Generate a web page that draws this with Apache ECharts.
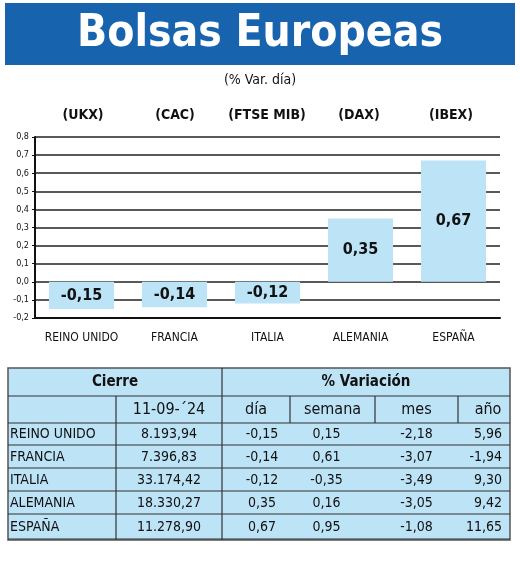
<!DOCTYPE html>
<html><head><meta charset="utf-8">
<script src="https://cdn.jsdelivr.net/npm/echarts@6/dist/echarts.min.js"></script>
<style>html,body{margin:0;padding:0;background:#fff}#c{width:520px;height:581px}</style>
</head><body><div id="c"></div>
<script>
var categories = ['REINO UNIDO','FRANCIA','ITALIA','ALEMANIA','ESPAÑA'];
var indices = ['(UKX)','(CAC)','(FTSE MIB)','(DAX)','(IBEX)'];
var dayChange = [-0.15,-0.14,-0.12,0.35,0.67];
var cierre = ['8.193,94','7.396,83','33.174,42','18.330,27','11.278,90'];
var dia = ['-0,15','-0,14','-0,12','0,35','0,67'];
var semana = ['0,15','0,61','-0,35','0,16','0,95'];
var mes = ['-2,18','-3,07','-3,49','-3,05','-1,08'];
var anio = ['5,96','-1,94','9,30','9,42','11,65'];
var headers = ['día','semana','mes','año'];

var F = "'Liberation Sans Narrow','DejaVu Sans Condensed','Roboto',sans-serif";
var BLUE = '#bde3f7';
var g = [];
g.push({type:'rect',shape:{x:5,y:3,width:510,height:62},style:{fill:'#1763ae'}});
g.push({type:'text',style:{text:'Bolsas Europeas',x:260,y:35,textAlign:'center',textVerticalAlign:'middle',font:'bold 44px '+F,fill:'#fff'}});
g.push({type:'text',style:{text:'(% Var. día)',x:260,y:80,textAlign:'center',textVerticalAlign:'middle',font:'14px '+F,fill:'#111'}});
indices.forEach(function(t,i){
  g.push({type:'text',style:{text:t,x:35+460/5*(i+0.5)+2,y:115,textAlign:'center',textVerticalAlign:'middle',font:'bold 14px '+F,fill:'#111'}});
});
var cols=[8,116,222,290,375,458,510];
var rows=[368,396,423,446,469,492,515,540];
g.push({type:'rect',shape:{x:8,y:368,width:502,height:172},style:{fill:BLUE,stroke:'#555',lineWidth:1.5}});
function line(x1,y1,x2,y2,w){g.push({type:'line',shape:{x1:x1,y1:y1,x2:x2,y2:y2},style:{stroke:'#333',lineWidth:w||1}});}
line(8,396,510,396,1.2);
line(8,423,510,423,1.2);
line(222,368,222,540,1.2);
line(116,396,116,540,1.2);
[290,375,458].forEach(function(x){line(x,396,x,423,1.2);});
for(var r=0;r<5;r++){line(8,rows[r+3]-1,510,rows[r+3]-1,1.2);}
function txt(s,x,y,al,font){g.push({type:'text',style:{text:s,x:x,y:y,textAlign:al,textVerticalAlign:'middle',font:font,fill:'#111'}});}
txt('Cierre',(cols[0]+cols[2])/2,382,'center','bold 15px '+F);
txt('% Variación',(cols[2]+cols[6])/2,382,'center','bold 15px '+F);
txt('11-09-´24',(cols[1]+cols[2])/2,410,'center','16px '+F);
headers.forEach(function(h,i){txt(h,(cols[i+2]+cols[i+3])/2+(i==3?4:0),410,'center','16px '+F);});
for(var r=0;r<5;r++){
  var y=(rows[r+2]+rows[r+3])/2;
  txt(categories[r],10,y,'left','14px '+F);
  txt(cierre[r],(cols[1]+cols[2])/2,y,'center','14px '+F);
  txt(dia[r],(cols[2]+cols[3])/2+6,y,'center','14px '+F);
  txt(semana[r],(cols[3]+cols[4])/2-6,y,'center','14px '+F);
  txt(mes[r],(cols[4]+cols[5])/2,y,'center','14px '+F);
  txt(anio[r],cols[6]-8,y,'right','14px '+F);
}

var chart = echarts.init(document.getElementById('c'));
chart.setOption({
  animation:false,
  grid:{left:35,right:20,top:137,height:181},
  xAxis:{type:'category',data:categories,
    axisLine:{onZero:false,lineStyle:{color:'#111',width:2}},axisTick:{show:false},
    axisLabel:{interval:0,color:'#111',fontFamily:F,fontSize:12,margin:14}},
  yAxis:{type:'value',min:-0.2,max:0.8,interval:0.1,
    axisLine:{show:true,lineStyle:{color:'#111',width:2}},axisTick:{show:true,length:3,lineStyle:{color:'#111'}},
    splitLine:{lineStyle:{color:'#222',width:1.5}},
    axisLabel:{color:'#111',fontFamily:F,fontSize:9,margin:6,formatter:function(v){return v.toFixed(1).replace('.',',');}}},
  series:[{type:'bar',data:dayChange,barWidth:'70%',itemStyle:{color:BLUE},
    label:{show:true,position:'inside',fontFamily:F,fontWeight:'bold',fontSize:16,color:'#111',
      formatter:function(p){return p.value.toFixed(2).replace('.',',');}}}],
  graphic:g
});
</script></body></html>
